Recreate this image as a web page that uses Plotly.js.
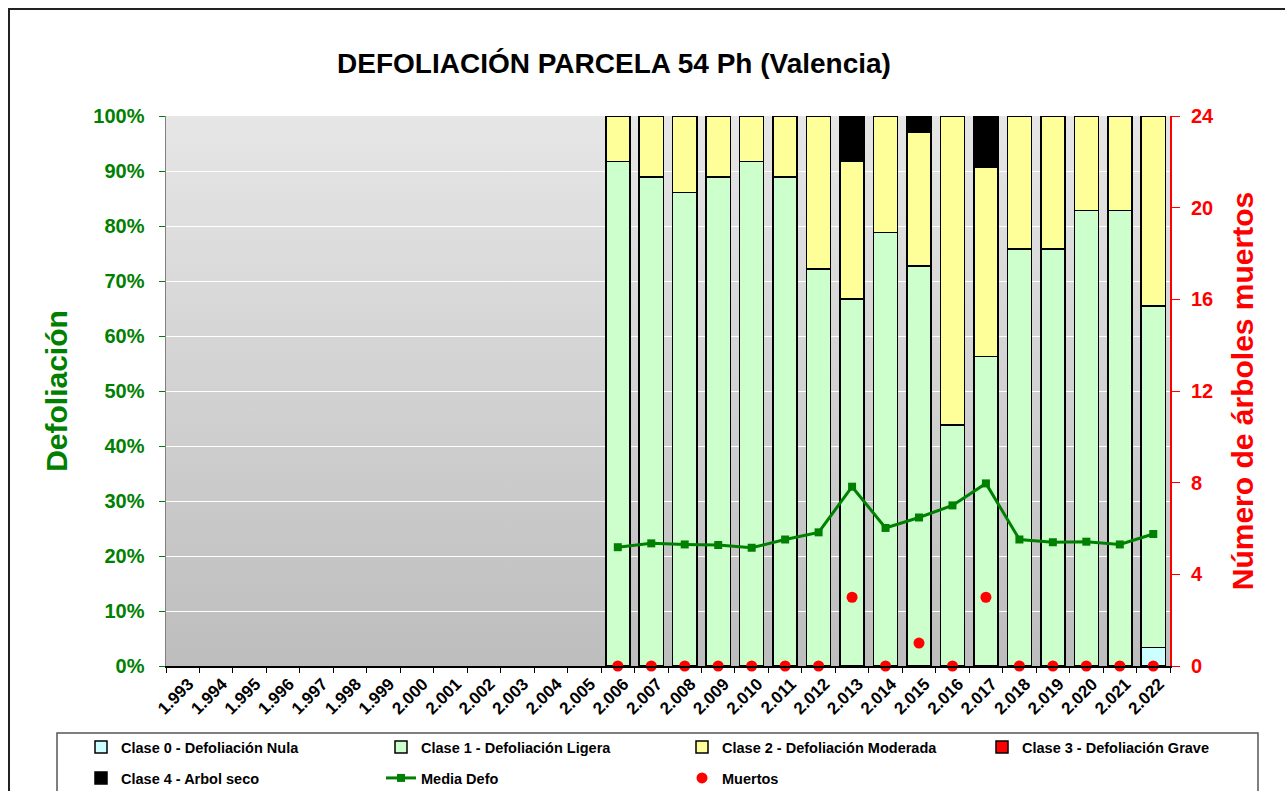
<!DOCTYPE html>
<html>
<head>
<meta charset="utf-8">
<script src="https://cdn.plot.ly/plotly-3.0.1.min.js"></script>
<style>
  body { margin: 0; background: #fff; }
  #chart { width: 1285px; height: 791px; }
</style>
</head>
<body>
<div id="chart"></div>
<script>
// años 1993..2022 (etiquetas con punto de miles como en el original)
const years = ['1.993','1.994','1.995','1.996','1.997','1.998','1.999','2.000','2.001','2.002',
  '2.003','2.004','2.005','2.006','2.007','2.008','2.009','2.010','2.011','2.012',
  '2.013','2.014','2.015','2.016','2.017','2.018','2.019','2.020','2.021','2.022'];

const N = null;
// % de árboles por clase (solo hay datos 2006-2022)
const clase0 = [N,N,N,N,N,N,N,N,N,N,N,N,N, N,N,N,N,N,N,N,N,N,N,N,N,N,N,N,N,3.4];
const clase1 = [N,N,N,N,N,N,N,N,N,N,N,N,N, 91.7,88.9,86.1,88.9,91.7,88.9,72.2,66.7,78.8,72.7,43.8,56.3,75.8,75.8,82.8,82.8,62.1];
const clase2 = [N,N,N,N,N,N,N,N,N,N,N,N,N, 8.3,11.1,13.9,11.1,8.3,11.1,27.8,25.0,21.2,24.3,56.2,34.4,24.2,24.2,17.2,17.2,34.5];
const clase3 = [N,N,N,N,N,N,N,N,N,N,N,N,N, N,N,N,N,N,N,N,N,N,N,N,N,N,N,N,N,N];
const clase4 = [N,N,N,N,N,N,N,N,N,N,N,N,N, N,N,N,N,N,N,N,8.3,N,3.0,N,9.3,N,N,N,N,N];
const mediaDefo = [N,N,N,N,N,N,N,N,N,N,N,N,N, 21.6,22.3,22.1,22.0,21.5,23.0,24.3,32.6,25.1,27.0,29.2,33.2,23.0,22.5,22.6,22.1,24.0];
const muertos = [N,N,N,N,N,N,N,N,N,N,N,N,N, 0,0,0,0,0,0,0,3,0,1,0,3,0,0,0,0,0];

const W = 1285, H = 791;
const M = {l: 166, r: 115, t: 116, b: 125};
const px = x => (x - M.l) / (W - M.l - M.r);
const py = y => (H - M.b - y) / (H - M.t - M.b);

const FONT = 'Arial, "Liberation Sans", sans-serif';
const GREEN = '#008000';

function barTrace(name, y, color, legend) {
    return {
        type: 'bar', x: years, y: y, name: name,
        marker: {color: color, line: {color: '#000', width: 1.5}},
        width: 0.72, legend: legend
    };
}

// una leyenda por elemento para colocarlas en rejilla 4 x 2
const traces = [
    barTrace('Clase 0 - Defoliación Nula', clase0, '#ccffff', 'legend'),
    barTrace('Clase 1 - Defoliación Ligera', clase1, '#ccffcc', 'legend2'),
    barTrace('Clase 2 - Defoliación Moderada', clase2, '#ffff99', 'legend3'),
    barTrace('Clase 3 - Defoliación Grave', clase3, '#ff0000', 'legend4'),
    barTrace('Clase 4 - Arbol seco', clase4, '#000000', 'legend5'),
    {
        type: 'scatter', mode: 'lines+markers', x: years, y: mediaDefo,
        name: 'Media Defo', legend: 'legend6',
        line: {color: GREEN, width: 3},
        marker: {symbol: 'square', size: 8, color: GREEN}
    },
    {
        type: 'scatter', mode: 'markers', x: years, y: muertos, yaxis: 'y2',
        name: 'Muertos', legend: 'legend7', cliponaxis: false,
        marker: {symbol: 'circle', size: 11, color: '#ff0000'}
    }
];
traces.forEach(t => { t.showlegend = true; });

// fondo degradado del área de trazado
const grad = 'data:image/svg+xml;utf8,' + encodeURIComponent(
    '<svg xmlns="http://www.w3.org/2000/svg" width="10" height="100" preserveAspectRatio="none">' +
    '<defs><linearGradient id="g" x1="0" y1="0" x2="0" y2="1">' +
    '<stop offset="0" stop-color="#e6e6e6"/><stop offset="1" stop-color="#bdbdbd"/>' +
    '</linearGradient></defs><rect width="10" height="100" fill="url(#g)"/></svg>');

function legendAt(x, y) {
    return {
        orientation: 'h', xref: 'container', yref: 'container',
        x: x / W, y: 1 - y / H, xanchor: 'left', yanchor: 'middle',
        font: {family: FONT, size: 14.5, color: '#000', weight: 'bold'},
        bgcolor: 'rgba(0,0,0,0)', itemclick: false
    };
}
const colX = [81, 381, 682, 982];
const rowY = [747, 778];

const layout = {
    width: W, height: H,
    margin: M,
    showlegend: true,
    paper_bgcolor: '#fff',
    plot_bgcolor: 'rgba(0,0,0,0)',
    barmode: 'stack',
    font: {family: FONT},
    title: {
        text: 'DEFOLIACIÓN PARCELA 54 Ph (Valencia)',
        font: {family: FONT, size: 28, color: '#000', weight: 'bold'},
        xref: 'container', x: 614 / W, xanchor: 'center',
        yref: 'container', y: 1 - 63 / H, yanchor: 'middle'
    },
    xaxis: {
        type: 'category', range: [-0.5, years.length - 0.5], tickangle: -45,
        tickfont: {family: FONT, size: 17, color: '#000', weight: 'bold'},
        ticklabelshift: 6,
        tickson: 'boundaries', ticks: 'outside', ticklen: 5, tickcolor: '#000',
        showline: true, linecolor: '#000', linewidth: 1.5,
        showgrid: false, automargin: false, fixedrange: true
    },
    yaxis: {
        range: [0, 100], dtick: 10, ticksuffix: '%',
        tickfont: {family: FONT, size: 20, color: GREEN, weight: 'bold'},
        ticks: 'outside', ticklen: 6, tickcolor: GREEN, ticklabelstandoff: 10,
        showline: true, linecolor: '#808080', linewidth: 1.5,
        gridcolor: '#ffffff', gridwidth: 1, zeroline: false,
        title: {text: 'Defoliación', font: {family: FONT, size: 30, color: GREEN, weight: 'bold'}, standoff: 17},
        automargin: false, fixedrange: true
    },
    yaxis2: {
        overlaying: 'y', side: 'right', range: [0, 24], dtick: 4,
        tickfont: {family: FONT, size: 20, color: '#ff0000', weight: 'bold'},
        ticks: 'outside', ticklen: 8, tickcolor: '#ff0000', ticklabelstandoff: 7,
        showline: true, linecolor: '#ff0000', linewidth: 2,
        showgrid: false, zeroline: false,
        title: {text: 'Número de árboles muertos', font: {family: FONT, size: 30, color: '#ff0000', weight: 'bold'}, standoff: 19},
        automargin: false, fixedrange: true
    },
    legend: legendAt(colX[0], rowY[0]),
    legend2: legendAt(colX[1], rowY[0]),
    legend3: legendAt(colX[2], rowY[0]),
    legend4: legendAt(colX[3], rowY[0]),
    legend5: legendAt(colX[0], rowY[1]),
    legend6: legendAt(colX[1], rowY[1]),
    legend7: legendAt(colX[2], rowY[1]),
    images: [{
        source: grad, xref: 'paper', yref: 'paper',
        x: 0, y: 1, sizex: 1, sizey: 1, sizing: 'stretch',
        xanchor: 'left', yanchor: 'top', layer: 'below'
    }],
    shapes: [
        {type: 'rect', xref: 'paper', yref: 'paper', x0: px(9), x1: px(1300), y0: py(9), y1: py(810),
         line: {color: '#222', width: 2}},
        {type: 'rect', xref: 'paper', yref: 'paper', x0: px(57), x1: px(1258), y0: py(733), y1: py(810),
         line: {color: '#555', width: 1.5}}
    ]
};

Plotly.newPlot('chart', traces, layout, {displayModeBar: false, staticPlot: true});
</script>
</body>
</html>
